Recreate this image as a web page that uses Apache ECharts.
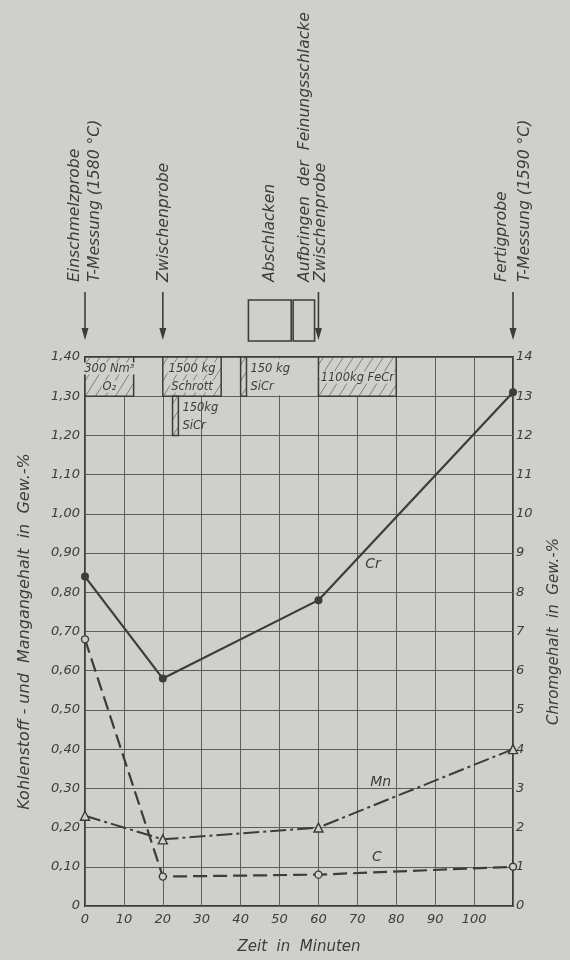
<!DOCTYPE html>
<html>
<head>
<meta charset="utf-8">
<script src="https://cdn.jsdelivr.net/npm/echarts@6/dist/echarts.min.js"></script>
<style>
  html, body { margin: 0; padding: 0; background: #cfd0cb; }
  #chart { width: 570px; height: 960px; }
</style>
</head>
<body>
<div id="chart"></div>
<script>
// Sampling times (minutes) and analysed contents
const timeMin  = [0, 20, 60, 110];
const crValues = [8.4, 5.8, 7.8, 13.1];      // Chromgehalt, Gew.-%
const mnValues = [0.23, 0.17, 0.20, 0.40];   // Mangangehalt, Gew.-%
const cValues  = [0.68, 0.075, 0.08, 0.10];  // Kohlenstoffgehalt, Gew.-%

// Axis ranges
const timeTicks = [0, 10, 20, 30, 40, 50, 60, 70, 80, 90, 100];
const leftMax = 1.4, leftStep = 0.1;
const rightMax = 14, rightStep = 1;

// Additions made to the melt (time span in minutes, drawn in the top band)
const additionText = [['300 Nm³', 'O₂'], ['1500 kg', 'Schrott'], ['150kg', 'SiCr'], ['150 kg', 'SiCr'], ['1100kg FeCr']];
const additionFrom = [0, 20, 22.5, 40, 60];
const additionTo   = [12.5, 35, 24, 41.5, 80];
const additionLow  = [1.30, 1.30, 1.20, 1.30, 1.30];
const additionHigh = [1.40, 1.40, 1.30, 1.40, 1.40];
const reagentBand = { from: 0, to: 80, low: 1.30, high: 1.40 };

// Process events marked above the diagram
const eventTimes = [0, 20, 60, 110];
const eventNotes = [
  ['Einschmelzprobe', 'T-Messung (1580 °C)'],
  ['Zwischenprobe'],
  ['Aufbringen  der  Feinungsschlacke', 'Zwischenprobe'],
  ['Fertigprobe', 'T-Messung (1590 °C)']
];
const slagFrom = [42, 53.5];
const slagTo   = [53, 59];
const slagNote = 'Abschlacken';

// Curve names written next to the curves (left-axis units)
const tagText = ['Cr', 'Mn', 'C'];
const tagTime = [74, 76, 75];
const tagValue = [0.87, 0.315, 0.125];

const PAPER = '#cfd0cb';
const INK = '#3c3c3c';
const GRID = '#5e5e5e';
const FONT = '"DejaVu Sans", sans-serif';
const font = (size) => 'italic ' + size + 'px ' + FONT;

// column offsets (px) of the note lines relative to the event arrow
const noteOffsets = [[-10, 10], [1], [-14, 2.5], [-11, 12]];
const NOTE_SIZE = 15.6;

function hatch(x0, y0, x1, y1) {
  const k = 1.6, step = 16, segs = [];
  for (let c = y0 + k * x0 + step / 2; c < y1 + k * x1; c += step) {
    const xs = Math.max(x0, (c - y1) / k);
    const xe = Math.min(x1, (c - y0) / k);
    if (xe - xs > 0.5) {
      segs.push({
        type: 'line', silent: true,
        shape: { x1: xs, y1: c - k * xs, x2: xe, y2: c - k * xe },
        style: { stroke: '#6a6a6a', lineWidth: 0.8 }
      });
    }
  }
  return segs;
}

function renderBand(params, api) {
  const p0 = api.coord([reagentBand.from, reagentBand.high]);
  const p1 = api.coord([reagentBand.to, reagentBand.low]);
  return {
    type: 'rect',
    shape: { x: p0[0] + 1, y: p0[1] + 1.5, width: p1[0] - p0[0] - 2, height: p1[1] - p0[1] - 2.5 },
    style: { fill: PAPER }
  };
}

function renderAddition(params, api) {
  const i = api.value(2);
  const p0 = api.coord([additionFrom[i], additionHigh[i]]);
  const p1 = api.coord([additionTo[i], additionLow[i]]);
  const x0 = p0[0], y0 = p0[1], x1 = p1[0], y1 = p1[1];
  const children = [
    { type: 'rect', shape: { x: x0, y: y0, width: x1 - x0, height: y1 - y0 }, style: { fill: PAPER } }
  ].concat(hatch(x0, y0, x1, y1));
  children.push({ type: 'rect', shape: { x: x0, y: y0, width: x1 - x0, height: y1 - y0 },
    style: { fill: null, stroke: INK, lineWidth: 1.5 } });
  const lines = additionText[i];
  const wide = (x1 - x0) > 20;
  const cy = (y0 + y1) / 2;
  const ys = lines.length === 1 ? [cy + 1] : [cy - 8, cy + 10];
  lines.forEach((t, j) => {
    children.push({
      type: 'text',
      x: wide ? (x0 + x1) / 2 : x1 + 4,
      y: ys[j],
      style: {
        text: t, font: font(11.5), fill: INK,
        align: wide ? 'center' : 'left', verticalAlign: 'middle',
        backgroundColor: wide ? PAPER : null, padding: wide ? [0, 1] : 0
      }
    });
  });
  return { type: 'group', children };
}

function renderEvent(params, api) {
  const i = api.value(2);
  const p = api.coord([eventTimes[i], leftMax]);
  const x = p[0], top = p[1];
  const children = [
    { type: 'line', shape: { x1: x, y1: top - 65, x2: x, y2: top - 26 }, style: { stroke: INK, lineWidth: 1.6 } },
    { type: 'polygon', shape: { points: [[x - 3.5, top - 29], [x + 3.5, top - 29], [x, top - 17]] }, style: { fill: INK } }
  ];
  eventNotes[i].forEach((t, j) => {
    children.push({
      type: 'text', x: x + noteOffsets[i][j], y: top - 75, rotation: Math.PI / 2,
      style: { text: t, font: font(NOTE_SIZE), fill: INK, align: 'left', verticalAlign: 'middle' }
    });
  });
  return { type: 'group', children };
}

function renderSlag(params, api) {
  const i = api.value(2);
  const a = api.coord([slagFrom[i], leftMax]);
  const b = api.coord([slagTo[i], leftMax]);
  const top = a[1];
  const children = [
    { type: 'rect', shape: { x: a[0], y: top - 57, width: b[0] - a[0], height: 41 },
      style: { fill: null, stroke: INK, lineWidth: 1.6 } }
  ];
  if (i === 0) {
    children.push({
      type: 'text', x: (a[0] + b[0]) / 2 + 0.5, y: top - 75, rotation: Math.PI / 2,
      style: { text: slagNote, font: font(NOTE_SIZE), fill: INK, align: 'left', verticalAlign: 'middle' }
    });
  }
  return { type: 'group', children };
}

function renderTag(params, api) {
  const i = api.value(2);
  const p = api.coord([tagTime[i], tagValue[i]]);
  return {
    type: 'text', x: p[0], y: p[1],
    style: { text: tagText[i], font: font(14), fill: INK, align: 'center', verticalAlign: 'middle' }
  };
}

const chart = echarts.init(document.getElementById('chart'), null, { renderer: 'canvas' });

const axisLabelStyle = { color: INK, fontFamily: FONT, fontStyle: 'italic', fontSize: 13 };

chart.setOption({
  backgroundColor: PAPER,
  animation: false,
  grid: { left: 85, right: 48, top: 357, bottom: 47, show: true, borderColor: INK, borderWidth: 2, backgroundColor: 'transparent' },
  xAxis: {
    type: 'value', min: 0, max: 110, interval: 10,
    axisLine: { show: false }, axisTick: { show: false },
    splitLine: { show: true, lineStyle: { color: GRID, width: 1 } },
    axisLabel: Object.assign({ margin: 7, formatter: v => (timeTicks.indexOf(v) >= 0 ? String(v) : '') }, axisLabelStyle),
    name: 'Zeit  in  Minuten', nameLocation: 'middle', nameGap: 34,
    nameTextStyle: { color: INK, fontFamily: FONT, fontStyle: 'italic', fontSize: 15 }
  },
  yAxis: [
    {
      type: 'value', min: 0, max: leftMax, interval: leftStep, position: 'left',
      axisLine: { show: false }, axisTick: { show: false },
      splitLine: { show: true, lineStyle: { color: GRID, width: 1 } },
      axisLabel: Object.assign({ margin: 5, formatter: v => (v === 0 ? '0' : v.toFixed(2).replace('.', ',')) }, axisLabelStyle),
      name: 'Kohlenstoff - und  Mangangehalt  in  Gew.-%', nameLocation: 'middle', nameGap: 52, nameRotate: 90,
      nameTextStyle: { color: INK, fontFamily: FONT, fontStyle: 'italic', fontSize: 16 }
    },
    {
      type: 'value', min: 0, max: rightMax, interval: rightStep, position: 'right',
      axisLine: { show: false }, axisTick: { show: false }, splitLine: { show: false },
      axisLabel: Object.assign({ margin: 3, formatter: v => String(v) }, axisLabelStyle),
      name: 'Chromgehalt  in  Gew.-%', nameLocation: 'middle', nameGap: 34, nameRotate: 90,
      nameTextStyle: { color: INK, fontFamily: FONT, fontStyle: 'italic', fontSize: 15 }
    }
  ],
  series: [
    { type: 'custom', name: 'band', yAxisIndex: 0, clip: false, z: 3, silent: true,
      renderItem: renderBand, data: [[reagentBand.from, reagentBand.low, 0]], encode: { x: 0, y: 1 } },
    { type: 'custom', name: 'additions', yAxisIndex: 0, clip: false, z: 4, silent: true,
      renderItem: renderAddition,
      data: additionFrom.map((f, i) => [f, additionLow[i], i]), encode: { x: 0, y: 1 } },
    { type: 'custom', name: 'events', yAxisIndex: 0, clip: false, z: 4, silent: true,
      renderItem: renderEvent,
      data: eventTimes.map((t, i) => [t, leftMax, i]), encode: { x: 0, y: 1 } },
    { type: 'custom', name: 'slag', yAxisIndex: 0, clip: false, z: 4, silent: true,
      renderItem: renderSlag,
      data: slagFrom.map((t, i) => [t, leftMax, i]), encode: { x: 0, y: 1 } },
    { type: 'custom', name: 'tags', yAxisIndex: 0, clip: false, z: 4, silent: true,
      renderItem: renderTag,
      data: tagTime.map((t, i) => [t, tagValue[i], i]), encode: { x: 0, y: 1 } },
    {
      type: 'line', name: 'Cr', yAxisIndex: 1, z: 6,
      data: timeMin.map((t, i) => [t, crValues[i]]),
      symbol: 'circle', symbolSize: 8,
      itemStyle: { color: INK },
      lineStyle: { color: INK, width: 2.2, type: 'solid' }
    },
    {
      type: 'line', name: 'Mn', yAxisIndex: 0, z: 6,
      data: timeMin.map((t, i) => [t, mnValues[i]]),
      symbol: 'triangle', symbolSize: 9, showAllSymbol: true,
      itemStyle: { color: PAPER, borderColor: INK, borderWidth: 1.4 },
      lineStyle: { color: INK, width: 2, type: [16, 4, 3, 4] }
    },
    {
      type: 'line', name: 'C', yAxisIndex: 0, z: 6,
      data: timeMin.map((t, i) => [t, cValues[i]]),
      symbol: 'circle', symbolSize: 7,
      itemStyle: { color: PAPER, borderColor: INK, borderWidth: 1.4 },
      lineStyle: { color: INK, width: 2.2, type: [14, 6] }
    }
  ]
});
</script>
</body>
</html>
